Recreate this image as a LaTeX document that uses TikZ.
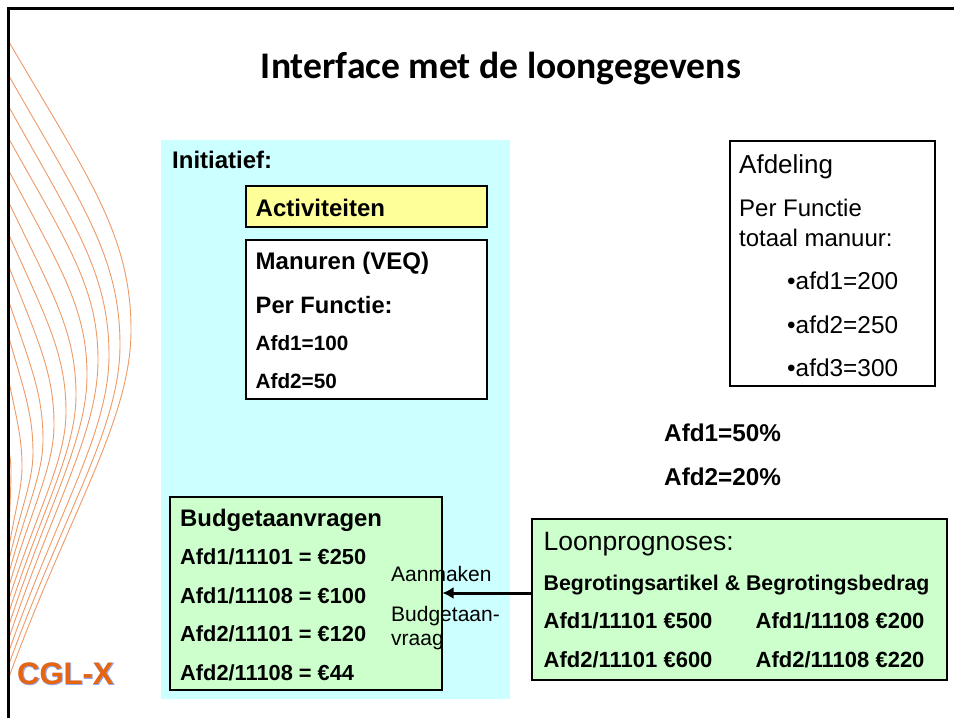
\documentclass[tikz,border=0pt]{standalone}
\usepackage{fontspec}
\setmainfont{Liberation Sans}
\newfontfamily\titlefont{Carlito}
\newfontfamily\logoback[FakeBold=3]{Liberation Sans Bold}
\newfontfamily\logofont{Liberation Sans Bold}
\definecolor{cyanbg}{HTML}{CCFFFF}
\definecolor{yellowbg}{HTML}{FFFF99}
\definecolor{greenbg}{HTML}{CCFFCC}
\definecolor{wave}{HTML}{EE9A66}
\definecolor{logoor}{HTML}{E8650F}
\definecolor{logobl}{HTML}{8FA8EE}
\newcommand{\fsz}[1]{\fontsize{#1}{#1}\selectfont}
\usetikzlibrary{arrows.meta}
\tikzset{
  x=1pt,y=-1pt,
  box/.style={draw=black,line width=2pt,anchor=north west,inner sep=0pt},
  lab/.style={anchor=base west,inner sep=0pt,text=black},
  blab/.style={lab,font=\bfseries\fsz{#1}},
  rlab/.style={lab,font=\fsz{#1}},
  arr/.style={line width=3pt,-{Latex[length=11pt,width=12pt]}},
  waveline/.style={wave,line width=0.9pt}
}
\begin{document}
\begin{tikzpicture}
\useasboundingbox (0,0) rectangle (954,718);
\fill[white] (0,0) rectangle (954,718);
% waves
\begin{scope}
\clip (9,0) rectangle (200,718);
\foreach \a/\ya/\s/\e in {131/330/42/677,120/345/76/664,109/355/107/651,98/360/139/638,87/375/171/625,76/395/203/612,66/412/235/599,54/425/267/586,43/440/302/573,33/453/338/560,22/467/382/547,11/470/450/534}{
  \pgfmathsetmacro{\axa}{9+0.65*(\a-9)}
  \pgfmathsetmacro{\aya}{\s+0.47*(\ya-\s)}
  \pgfmathsetmacro{\ayb}{\ya-0.33*(\ya-\s)}
  \pgfmathsetmacro{\byb}{\ya+0.26*(\e-\ya)}
  \pgfmathsetmacro{\bxc}{9+0.5*(\a-9)}
  \pgfmathsetmacro{\byc}{\e-0.48*(\e-\ya)}
  \draw[waveline] (9,\s) .. controls (\axa,\aya) and (\a,\ayb) .. (\a,\ya)
     .. controls (\a,\byb) and (\bxc,\byc) .. (9,\e);
}
\end{scope}
% frame
\draw[black,line width=3pt] (8.5,718) -- (8.5,8.5) -- (954,8.5);
% panels
\node[anchor=north west,inner sep=0pt,fill=cyanbg,minimum width=349pt,minimum height=559pt] (panel) at (161,140) {};
\node[box,fill=yellowbg,minimum width=241pt,minimum height=41pt] (act) at (244.5,184.5) {};
\node[box,fill=white,minimum width=241pt,minimum height=159pt] (man) at (244.5,238.5) {};
\node[box,fill=greenbg,minimum width=272pt,minimum height=193pt] (budget) at (168.5,495.5) {};
\node[box,fill=greenbg,minimum width=415pt,minimum height=161pt] (loon) at (530.5,517.5) {};
\node[box,fill=white,minimum width=205pt,minimum height=245pt] (afd) at (728.5,139.5) {};
\draw[arr] (loon.west |- budget.east) -- (budget.east);
% title
\node[inner sep=0pt,anchor=base,font=\titlefont\bfseries\fsz{37.6}] (title) at (501,78) {Interface met de loongegevens};
% panel texts
\node[blab=24] (t1) at (172,168.5) {Initiatief:};
\node[blab=24] (t2) at (255.5,216) {Activiteiten};
\node[blab=24] (t3) at (255.5,269) {Manuren (VEQ)};
\node[blab=23.7] (t4) at (255.5,313) {Per Functie:};
\node[blab=20.7] (t5) at (255.5,350.5) {Afd1=100};
\node[blab=20.7] (t6) at (255.5,388.5) {Afd2=50};
\node[blab=23.9] (b0) at (180,526) {Budgetaanvragen};
\node[blab=21.8] (b1) at (180,564) {Afd1/11101 = €250};
\node[blab=21.8] (b2) at (180,603) {Afd1/11108 = €100};
\node[blab=21.8] (b3) at (180,641) {Afd2/11101 = €120};
\node[blab=21.8] (b4) at (180,680) {Afd2/11108 = €44};
\node[rlab=21] (c1) at (391,581) {Aanmaken};
\node[rlab=21] (c2) at (391,621) {Budgetaan-};
\node[rlab=21] (c3) at (391,645) {vraag};
% afdeling
\node[rlab=26] (a0) at (739,173) {Afdeling};
\node[rlab=24] (a1) at (739,216) {Per Functie};
\node[rlab=24] (a2) at (739,246) {totaal manuur:};
\node[rlab=24.4] (a3) at (787,289) {•afd1=200};
\node[rlab=24.4] (a4) at (787,333) {•afd2=250};
\node[rlab=24.4] (a5) at (787,376) {•afd3=300};
% percent
\node[blab=24.3] (p1) at (664,441) {Afd1=50\%};
\node[blab=24.3] (p2) at (664,485) {Afd2=20\%};
% loon
\node[rlab=26.5] (l0) at (543.5,550) {Loonprognoses:};
\node[blab=21.3] (l1) at (543.5,590) {Begrotingsartikel \& Begrotingsbedrag};
\node[blab=22] (l2) at (543.5,628) {Afd1/11101 €500};
\node[blab=22] (l3) at (755.5,628) {Afd1/11108 €200};
\node[blab=22] (l4) at (543.5,667) {Afd2/11101 €600};
\node[blab=22] (l5) at (755.5,667) {Afd2/11108 €220};
% logo: blue halo under an orange face
\node[lab,text=logobl,font=\logoback\fsz{31}] (logohalo) at (17.5,684.5) {CGL-X};
\node[lab,text=logoor,font=\logofont\fsz{31}] (logo) at (17,684) {CGL-X};
\end{tikzpicture}
\end{document}
